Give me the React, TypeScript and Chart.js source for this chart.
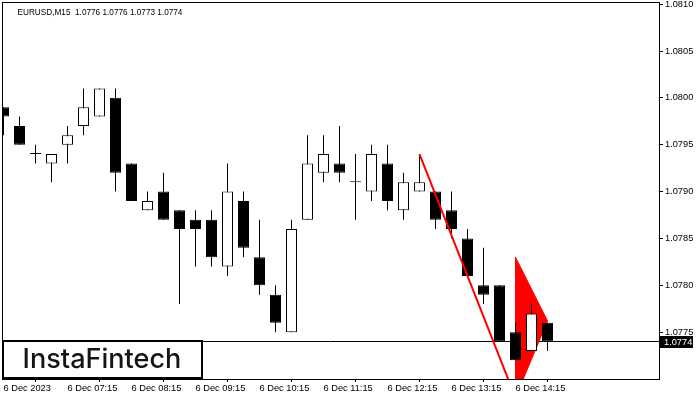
import React, { useEffect, useRef } from 'react';
import { Chart, registerables } from 'chart.js';

Chart.register(...registerables);

// ---------- data ----------
const symbolLabel = 'EURUSD,M15';
const brandName = 'InstaFintech';

const barTimes = [
  '06:15', '06:30', '06:45', '07:00', '07:15', '07:30', '07:45', '08:00', '08:15', '08:30',
  '08:45', '09:00', '09:15', '09:30', '09:45', '10:00', '10:15', '10:30', '10:45', '11:00',
  '11:15', '11:30', '11:45', '12:00', '12:15', '12:30', '12:45', '13:00', '13:15', '13:30',
  '13:45', '14:00', '14:15', '14:30', '14:45',
];
const opens = [
  1.0799, 1.0797, 1.0794, 1.0793, 1.0795, 1.0797, 1.0798, 1.0800, 1.0793, 1.0788,
  1.0790, 1.0788, 1.0787, 1.0787, 1.0782, 1.0789, 1.0783, 1.0779, 1.0775, 1.0787,
  1.0792, 1.0793, 1.0791, 1.0790, 1.0793, 1.0788, 1.0790, 1.0790, 1.0788, 1.0785,
  1.0780, 1.0780, 1.0775, 1.0773, 1.0776,
];
const highs = [
  1.0799, 1.0798, 1.0795, 1.0794, 1.0797, 1.0801, 1.0801, 1.0801, 1.0793, 1.0790,
  1.0792, 1.0788, 1.0788, 1.0788, 1.0793, 1.0790, 1.0787, 1.0780, 1.0787, 1.0796,
  1.0796, 1.0797, 1.0794, 1.0795, 1.0795, 1.0792, 1.0794, 1.0790, 1.0790, 1.0786,
  1.0784, 1.0780, 1.0776, 1.0778, 1.0776,
];
const lows = [
  1.0796, 1.0795, 1.0793, 1.0791, 1.0793, 1.0796, 1.0798, 1.0790, 1.0789, 1.0788,
  1.0787, 1.0778, 1.0782, 1.0782, 1.0781, 1.0783, 1.0779, 1.0775, 1.0775, 1.0787,
  1.0791, 1.0791, 1.0787, 1.0789, 1.0788, 1.0787, 1.0790, 1.0786, 1.0785, 1.0781,
  1.0778, 1.0774, 1.0772, 1.0773, 1.0773,
];
const closes = [
  1.0798, 1.0795, 1.0794, 1.0794, 1.0796, 1.0799, 1.0801, 1.0792, 1.0789, 1.0789,
  1.0787, 1.0786, 1.0786, 1.0783, 1.0790, 1.0784, 1.0780, 1.0776, 1.0786, 1.0793,
  1.0794, 1.0792, 1.0791, 1.0794, 1.0789, 1.0791, 1.0791, 1.0787, 1.0786, 1.0781,
  1.0779, 1.0774, 1.0772, 1.0777, 1.0774,
];

const xTickBars = [0, 4, 8, 12, 16, 20, 24, 28, 32];
const xTickLabels = [
  '6 Dec 2023', '6 Dec 07:15', '6 Dec 08:15', '6 Dec 09:15', '6 Dec 10:15',
  '6 Dec 11:15', '6 Dec 12:15', '6 Dec 13:15', '6 Dec 14:15',
];
const yTickValues = [1.0775, 1.0780, 1.0785, 1.0790, 1.0795, 1.0800, 1.0805, 1.0810];

// bearish pennant: pole and flag
const poleBars = [26, 32];
const polePrices = [1.0794, 1.0768];
const flagBars = [32, 34, 32, 32];
const flagPrices = [1.0783, 1.07762, 1.0768, 1.0783];

// visible window
const priceMin = 1.0770;
const priceMax = 1.081023;
const barMin = -0.09375;
const barMax = 40.96875;

const lastO = opens[opens.length - 1];
const lastH = highs[highs.length - 1];
const lastL = lows[lows.length - 1];
const lastC = closes[closes.length - 1];

const AXIS_FONT = '"Liberation Sans", Arial, sans-serif';
const HEADER_FONT = '"Liberation Sans Narrow", "Liberation Sans", Arial, sans-serif';

function fitSize(ctx: CanvasRenderingContext2D, text: string, family: string, weight: string, width: number) {
  ctx.font = `${weight} 100px ${family}`;
  const w = ctx.measureText(text).width;
  return (100 * width) / w;
}

const overlayPlugin = {
  id: 'overlay',
  beforeDatasetsDraw(chart: any) {
    const { ctx, chartArea: a, scales } = chart;
    const y = Math.round(scales.y.getPixelForValue(lastC) - 0.5) + 0.5;
    ctx.save();
    ctx.strokeStyle = '#000';
    ctx.lineWidth = 1;
    ctx.beginPath();
    ctx.moveTo(a.left, y);
    ctx.lineTo(a.right, y);
    ctx.stroke();
    ctx.restore();
  },
  afterDraw(chart: any) {
    const { ctx, chartArea: a, scales } = chart;
    ctx.save();
    // frame
    ctx.strokeStyle = '#000';
    ctx.lineWidth = 1;
    ctx.strokeRect(a.left + 0.5, a.top + 0.5, a.right - a.left, a.bottom - a.top);

    // header
    const header = `${symbolLabel}  ${lastO.toFixed(4)} ${lastH.toFixed(4)} ${lastL.toFixed(4)} ${lastC.toFixed(4)}`;
    const hs = Math.min(10.5, fitSize(ctx, header, HEADER_FONT, 'normal', 165));
    ctx.font = `normal ${hs}px ${HEADER_FONT}`;
    ctx.fillStyle = '#000';
    ctx.textBaseline = 'alphabetic';
    ctx.textAlign = 'left';
    ctx.fillText(header, 17.5, 14.5);

    // last price tag
    const y = scales.y.getPixelForValue(lastC);
    ctx.fillStyle = '#000';
    ctx.fillRect(a.right + 1, Math.round(y) - 6, 33, 12);
    ctx.fillStyle = '#fff';
    ctx.font = `normal 9.25px ${AXIS_FONT}`;
    ctx.textBaseline = 'middle';
    ctx.fillText(lastC.toFixed(4), a.right + 5, Math.round(y) + 0.5);

    // logo box
    ctx.fillStyle = '#fff';
    ctx.fillRect(2, 340, 201, 39);
    ctx.strokeStyle = '#000';
    ctx.lineWidth = 2;
    ctx.strokeRect(3, 341, 199, 37);
    const fam = 'Inter, Lato, "Noto Sans", sans-serif';
    const ls = fitSize(ctx, brandName, fam, '500', 159);
    ctx.font = `500 ${ls}px ${fam}`;
    ctx.fillStyle = '#151515';
    ctx.textBaseline = 'alphabetic';
    ctx.fillText(brandName, 22.5, 367.5);
    ctx.restore();
  },
};

export default function App() {
  const ref = useRef<HTMLCanvasElement>(null);

  useEffect(() => {
    const canvas = ref.current;
    if (!canvas) return;

    const bodyData = barTimes.map((_, i) => ({ x: i, y: [opens[i], closes[i]] }));
    const wickData = barTimes.map((_, i) => ({ x: i, y: [lows[i], highs[i]] }));
    const bodyColors = barTimes.map((_, i) => (closes[i] > opens[i] ? '#ffffff' : '#000000'));

    const chart = new Chart(canvas, {
      type: 'bar',
      data: {
        datasets: [
          {
            type: 'line',
            label: 'pole',
            data: poleBars.map((b, i) => ({ x: b, y: polePrices[i] })),
            borderColor: '#ff0000',
            borderWidth: 2,
            pointRadius: 0,
            fill: false,
            tension: 0,
            order: 0,
          } as any,
          {
            type: 'bar',
            label: 'body',
            data: bodyData,
            backgroundColor: bodyColors,
            borderColor: '#000000',
            borderWidth: 1,
            borderSkipped: false,
            grouped: false,
            barPercentage: 1,
            categoryPercentage: 1,
            maxBarThickness: 11,
            minBarLength: 1,
            inflateAmount: 0,
            order: 1,
          } as any,
          {
            type: 'bar',
            label: 'wick',
            data: wickData,
            backgroundColor: '#000000',
            borderWidth: 0,
            grouped: false,
            barPercentage: 1,
            categoryPercentage: 1,
            maxBarThickness: 1,
            inflateAmount: 0,
            order: 2,
          } as any,
          {
            type: 'line',
            label: 'flag',
            data: flagBars.map((b, i) => ({ x: b, y: flagPrices[i] })),
            borderColor: '#ff0000',
            backgroundColor: '#ff0000',
            borderWidth: 1,
            pointRadius: 0,
            fill: 'shape',
            tension: 0,
            order: 3,
          } as any,
        ],
      },
      options: {
        responsive: false,
        animation: false,
        events: [],
        layout: { padding: { left: 2, top: 2, right: 0, bottom: 0 }, autoPadding: false } as any,
        plugins: {
          legend: { display: false },
          tooltip: { enabled: false },
          title: { display: false },
        },
        scales: {
          x: {
            type: 'linear',
            min: barMin,
            max: barMax,
            offset: false,
            afterBuildTicks: (axis: any) => {
              axis.ticks = xTickBars.map((v) => ({ value: v }));
            },
            afterFit: (s: any) => {
              s.height = 21;
              s.paddingLeft = 0;
              s.paddingRight = 0;
              s.paddingTop = 0;
              s.paddingBottom = 0;
            },
            ticks: {
              autoSkip: false,
              maxRotation: 0,
              minRotation: 0,
              align: 'start',
              padding: 1,
              color: '#000',
              font: { family: AXIS_FONT, size: 9.25 },
              callback: (v: any) => xTickLabels[xTickBars.indexOf(Number(v))] ?? '',
            },
            grid: { display: true, drawOnChartArea: false, drawTicks: true, tickLength: 3, color: '#000', lineWidth: 1 },
            border: { display: false },
          } as any,
          y: {
            type: 'linear',
            position: 'right',
            min: priceMin,
            max: priceMax,
            afterBuildTicks: (axis: any) => {
              axis.ticks = yTickValues.map((v) => ({ value: v }));
            },
            afterFit: (s: any) => {
              s.width = 41;
              s.paddingLeft = 0;
              s.paddingRight = 0;
              s.paddingTop = 0;
              s.paddingBottom = 0;
            },
            ticks: {
              padding: 2,
              color: '#000',
              font: { family: AXIS_FONT, size: 9.25 },
              callback: (v: any) => Number(v).toFixed(4),
            },
            grid: { display: true, drawOnChartArea: false, drawTicks: true, tickLength: 4, color: '#000', lineWidth: 1 },
            border: { display: false },
          } as any,
        },
      },
      plugins: [overlayPlugin],
    } as any);

    return () => chart.destroy();
  }, []);

  return (
    <div style={{ position: 'fixed', left: 0, top: 0, width: 700, height: 400, background: '#fff' }}>
      <canvas ref={ref} width={700} height={400} style={{ display: 'block', width: 700, height: 400 }} />
    </div>
  );
}
